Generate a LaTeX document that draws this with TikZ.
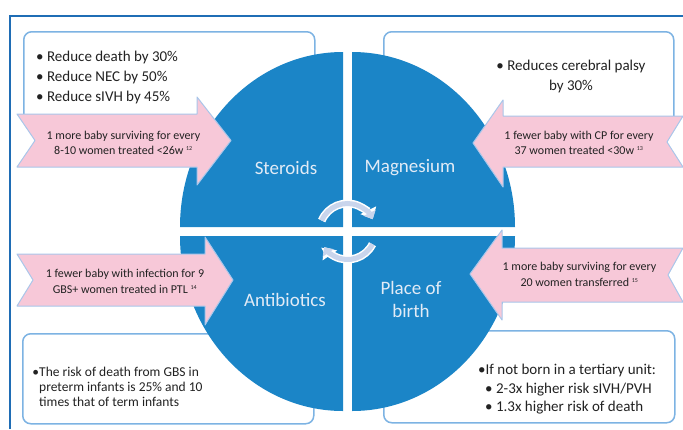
\documentclass[tikz,border=0pt]{standalone}
\usepackage{fontspec}
\setmainfont{Carlito}
\usetikzlibrary{arrows.meta}
\definecolor{ink}{HTML}{222222}
\definecolor{frameline}{HTML}{1F6DB5}
\definecolor{boxline}{HTML}{7DB3E3}
\definecolor{wedgefill}{HTML}{1B85C7}
\definecolor{wedgetext}{HTML}{E2EBF6}
\definecolor{bannerfill}{HTML}{F7C8D8}
\definecolor{bannerline}{HTML}{A9C6EA}
\definecolor{turnfill}{HTML}{C9D5EC}
\newcommand{\listsize}{\fontsize{15}{20}\selectfont}
\newcommand{\unitsize}{\fontsize{15}{18.5}\selectfont}
\newcommand{\gbssize}{\fontsize{13.5}{15}\selectfont}
\newcommand{\bannersize}{\fontsize{12}{15.5}\selectfont}
\newcommand{\wedgesize}{\fontsize{19}{23}\selectfont}
\newcommand{\refmark}[1]{\textsuperscript{\fontsize{6}{6}\selectfont #1}}
\tikzset{
 every node/.append style={text=ink,inner sep=0pt},
 frame/.style={draw=frameline,line width=2pt},
 panel/.style={draw=boxline,fill=white,rounded corners=8pt,line width=1.5pt},
 wedge/.style={fill=wedgefill},
 wedgelabel/.style={font=\wedgesize,text=wedgetext,align=center},
 banner/.style={draw=bannerline,fill=bannerfill,line width=1pt,line join=round},
 bannertext/.style={font=\bannersize,align=center},
 listtext/.style={font=\listsize,align=left,anchor=west},
 turnback/.style={draw=white,line width=8pt,-{Triangle[length=10pt,width=17pt]}},
 turn/.style={draw=turnfill,line width=5pt,-{Triangle[length=7pt,width=13pt]}},
}
\begin{document}
\begin{tikzpicture}[x=1pt,y=-1pt]

\useasboundingbox (0,0) rectangle (683,429);
\draw[frame] (10,429) -- (10,15.5) -- (683,15.5);
\node[panel,minimum width=291pt,minimum height=94pt,anchor=north west] (stpanel) at (23,31) {};
\node[panel,minimum width=290pt,minimum height=94pt,anchor=north west] (mgpanel) at (383,31) {};
\node[panel,minimum width=291pt,minimum height=90pt,anchor=north west] (abpanel) at (22,333) {};
\node[panel,minimum width=291pt,minimum height=92pt,anchor=north west] (pbpanel) at (383,330) {};
\fill[wedge] (343,227) -- (180,227) arc[start angle=180,end angle=270,x radius=163,y radius=175] -- cycle;
\fill[wedge] (352,227) -- (352,52) arc[start angle=270,end angle=360,x radius=163,y radius=175] -- cycle;
\fill[wedge] (343,236) -- (180,236) arc[start angle=180,end angle=90,x radius=163,y radius=175] -- cycle;
\fill[wedge] (352,236) -- (515,236) arc[start angle=0,end angle=90,x radius=163,y radius=175] -- cycle;
\draw[banner] (17,114) -- (197,114) -- (197,97) -- (231,140.5) -- (197,185) -- (197,167) -- (17,167) -- (35,140.5) -- cycle;
\draw[banner] (683,116) -- (503,116) -- (503,100) -- (473,143) -- (503,187) -- (503,167) -- (683,167) -- (667,142) -- cycle;
\draw[banner] (17,254) -- (205,254) -- (205,237) -- (233,280) -- (205,325) -- (205,306) -- (17,306) -- (33,280) -- cycle;
\draw[banner] (683,248) -- (502,248) -- (502,230) -- (470,274) -- (502,320) -- (502,302) -- (683,302) -- (668,275) -- cycle;
\node[listtext] (stlist) at (36,77) {• Reduce death by 30\%\\• Reduce NEC by 50\%\\• Reduce sIVH by 45\%};
\node[listtext,align=center,anchor=center] (mglist) at (571,76) {• Reduces cerebral palsy\\by 30\%};
\node[listtext,font=\gbssize] (ablist) at (39,387) {\llap{•}The risk of death from GBS in\\preterm infants is 25\% and 10\\times that of term infants};
\node[listtext,font=\unitsize] (pblist) at (478,389.5) {•If not born in a tertiary unit:\\\hspace*{7pt}• 2-3x higher risk sIVH/PVH\\\hspace*{7pt}• 1.3x higher risk of death};
\node[bannertext] (stnote) at (123.5,143) {1 more baby surviving for every\\8-10 women treated <26w \refmark{12}};
\node[bannertext] (mgnote) at (579,143) {1 fewer baby with CP for every\\37 women treated <30w \refmark{13}};
\node[bannertext] (abnote) at (125,281.5) {1 fewer baby with infection for 9\\GBS+ women treated in PTL \refmark{14}};
\node[bannertext] (pbnote) at (579.5,274.5) {1 more baby surviving for every\\20 women transferred \refmark{15}};
\node[wedgelabel] (steroids) at (286,168) {Steroids};
\node[wedgelabel] (magnesium) at (410,168) {Magnesium};
\node[wedgelabel] (antibiotics) at (285,300) {Antibiotics};
\node[wedgelabel] (place) at (411,299.5) {Place of\\birth};
\coordinate (hub) at (347.5,231.5);
\draw[turnback] ([shift={(203:28)}]hub) arc[start angle=203,end angle=334,radius=28];
\draw[turnback] ([shift={(27:28)}]hub) arc[start angle=27,end angle=146,radius=28];
\draw[turn] ([shift={(203:28)}]hub) arc[start angle=203,end angle=334,radius=28];
\draw[turn] ([shift={(27:28)}]hub) arc[start angle=27,end angle=146,radius=28];

\end{tikzpicture}
\end{document}
